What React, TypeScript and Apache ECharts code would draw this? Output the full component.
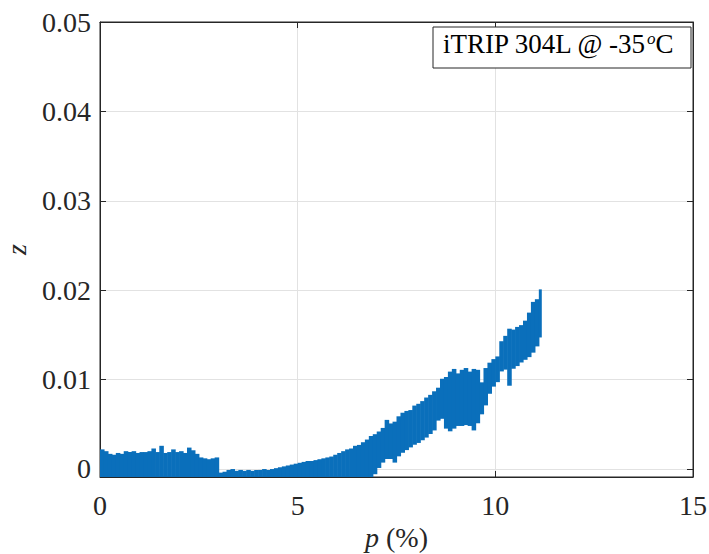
import React, { useEffect, useRef } from "react";
import * as echarts from "echarts";

// strain p (%) sample positions
const pValues = [
  0.0, 0.1, 0.2, 0.3, 0.4, 0.5, 0.6, 0.7, 0.8, 0.9,
  1.0, 1.1, 1.2, 1.3, 1.4, 1.5, 1.6, 1.7, 1.8, 1.9,
  2.0, 2.1, 2.2, 2.3, 2.4, 2.5, 2.6, 2.7, 2.8, 2.9,
  3.0, 3.1, 3.2, 3.3, 3.4, 3.5, 3.6, 3.7, 3.8, 3.9,
  4.0, 4.1, 4.2, 4.3, 4.4, 4.5, 4.6, 4.7, 4.8, 4.9,
  5.0, 5.1, 5.2, 5.3, 5.4, 5.5, 5.6, 5.7, 5.8, 5.9,
  6.0, 6.1, 6.2, 6.3, 6.4, 6.5, 6.6, 6.7, 6.8, 6.9,
  7.0, 7.1, 7.2, 7.3, 7.4, 7.5, 7.6, 7.7, 7.8, 7.9,
  8.0, 8.1, 8.2, 8.3, 8.4, 8.5, 8.6, 8.7, 8.8, 8.9,
  9.0, 9.1, 9.2, 9.3, 9.4, 9.5, 9.6, 9.7, 9.8, 9.9,
  10.0, 10.1, 10.2, 10.3, 10.4, 10.5, 10.6, 10.7, 10.8, 10.9,
  11.0, 11.1,
];

// lower envelope of the noisy z signal
const zLow = [
  -0.0009, -0.0009, -0.0009, -0.0009, -0.0009, -0.0009, -0.0009, -0.0009, -0.0009, -0.0009,
  -0.0009, -0.0009, -0.0009, -0.0009, -0.0009, -0.0009, -0.0009, -0.0009, -0.0009, -0.0009,
  -0.0009, -0.0009, -0.0009, -0.0009, -0.0009, -0.0009, -0.0009, -0.0009, -0.0009, -0.0009,
  -0.0009, -0.0009, -0.0009, -0.0009, -0.0009, -0.0009, -0.0009, -0.0009, -0.0009, -0.0009,
  -0.0009, -0.0009, -0.0009, -0.0009, -0.0009, -0.0009, -0.0009, -0.0009, -0.0009, -0.0009,
  -0.0009, -0.0009, -0.0009, -0.0009, -0.0009, -0.0009, -0.0009, -0.0009, -0.0009, -0.0009,
  -0.0009, -0.0009, -0.0009, -0.0009, -0.0009, -0.0009, -0.0009, -0.0009, -0.0009, -0.0005,
  0.0002, 0.0008, 0.0012, 0.0012, 0.0008, 0.0015, 0.0019, 0.0022, 0.0025, 0.0028,
  0.0030, 0.0033, 0.0036, 0.0040, 0.0044, 0.0055, 0.0057, 0.0046, 0.0043, 0.0046,
  0.0049, 0.0049, 0.0050, 0.0049, 0.0044, 0.0052, 0.0062, 0.0072, 0.0085, 0.0093,
  0.0098, 0.0110, 0.0112, 0.0094, 0.0113, 0.0116, 0.0120, 0.0123, 0.0126, 0.0131,
  0.0138, 0.0148,
];

// upper envelope of the noisy z signal
const zHigh = [
  0.0021, 0.0019, 0.0016, 0.0015, 0.0017, 0.0016, 0.0019, 0.0018, 0.0019, 0.0017,
  0.0018, 0.0018, 0.0019, 0.0022, 0.0018, 0.0025, 0.0017, 0.0018, 0.0021, 0.0018,
  0.0019, 0.0017, 0.0023, 0.0020, 0.0016, 0.0012, 0.0011, 0.0010, 0.0011, 0.0012,
  -0.0005, -0.0004, -0.0002, -0.0001, -0.0003, -0.0002, -0.0003, -0.0002, -0.0003, -0.0002,
  -0.0002, -0.0001, -0.0002, -0.0001, 0.0000, 0.0001, 0.0002, 0.0003, 0.0004, 0.0005,
  0.0006, 0.0007, 0.0008, 0.0008, 0.0009, 0.0010, 0.0011, 0.0012, 0.0013, 0.0015,
  0.0017, 0.0019, 0.0021, 0.0022, 0.0025, 0.0026, 0.0029, 0.0032, 0.0036, 0.0038,
  0.0041, 0.0045, 0.0054, 0.0050, 0.0052, 0.0058, 0.0062, 0.0064, 0.0065, 0.0070,
  0.0072, 0.0075, 0.0079, 0.0082, 0.0086, 0.0090, 0.0100, 0.0102, 0.0108, 0.0111,
  0.0106, 0.0110, 0.0112, 0.0108, 0.0111, 0.0110, 0.0096, 0.0112, 0.0118, 0.0122,
  0.0125, 0.0142, 0.0148, 0.0156, 0.0155, 0.0158, 0.0160, 0.0165, 0.0174, 0.0186,
  0.0189, 0.0200,
];

const xMin = 0;
const xMax = 15;
const xStep = 5;
const yMin = -0.0009;
const yMax = 0.05;
const yTicks = [0, 0.01, 0.02, 0.03, 0.04, 0.05];
const legendMain = "iTRIP 304L @ -35";
const legendSup = "o";
const legendUnit = "C";

const FONT = "'Liberation Serif', 'Times New Roman', 'DejaVu Serif', serif";
const AXIS_COLOR = "#262626";
const LINE_COLOR = "#0a6fbb";

export default function App() {
  const ref = useRef<HTMLDivElement>(null);

  useEffect(() => {
    if (!ref.current) return;
    const chart = echarts.init(ref.current, null, { renderer: "svg" });
    const data = pValues.map((p, i) => [p, zLow[i], zHigh[i]]);

    const xCommon = {
      type: "value",
      min: xMin,
      max: xMax,
      interval: xStep,
      gridIndex: 0,
      axisLine: { show: true, onZero: false, lineStyle: { color: AXIS_COLOR, width: 1 } },
      axisTick: { show: true, inside: true, length: 6, lineStyle: { color: AXIS_COLOR, width: 1 } },
    };
    const yCommon = {
      type: "value",
      min: yMin,
      max: yMax,
      gridIndex: 0,
      axisLine: { show: true, onZero: false, lineStyle: { color: AXIS_COLOR, width: 1 } },
      axisTick: {
        show: true,
        inside: true,
        length: 6,
        customValues: yTicks,
        lineStyle: { color: AXIS_COLOR, width: 1 },
      },
    };

    chart.setOption({
      animation: false,
      backgroundColor: "#ffffff",
      textStyle: { fontFamily: FONT },
      grid: {
        left: 100,
        right: 16,
        top: 22,
        bottom: 77,
        show: true,
        borderColor: AXIS_COLOR,
        borderWidth: 1,
        backgroundColor: "#ffffff",
        containLabel: false,
        outerBoundsMode: "none",
      },
      xAxis: [
        {
          ...xCommon,
          position: "bottom",
          axisLabel: { show: true, color: AXIS_COLOR, fontSize: 28, fontFamily: FONT, margin: 14 },
          splitLine: { show: true, lineStyle: { color: "#e2e2e2", width: 1 } },
          name: "{it|p} (%)",
          nameLocation: "middle",
          nameGap: 44,
          nameTextStyle: {
            color: AXIS_COLOR,
            fontSize: 28,
            fontFamily: FONT,
            rich: {
              it: { fontStyle: "italic", fontSize: 28, fontFamily: FONT, color: AXIS_COLOR },
            },
          },
        },
        {
          ...xCommon,
          position: "top",
          axisLabel: { show: false },
          splitLine: { show: false },
        },
      ],
      yAxis: [
        {
          ...yCommon,
          position: "left",
          axisLabel: {
            show: true,
            customValues: yTicks,
            color: AXIS_COLOR,
            fontSize: 28,
            fontFamily: FONT,
            margin: 9,
            formatter: (v: number) => (Math.abs(v) < 1e-12 ? "0" : v.toFixed(2)),
          },
          splitLine: { show: true, lineStyle: { color: "#e2e2e2", width: 1 } },
          name: "z",
          nameLocation: "middle",
          nameRotate: 90,
          nameGap: 70,
          nameTextStyle: {
            color: AXIS_COLOR,
            fontSize: 28,
            fontFamily: FONT,
            fontStyle: "italic",
          },
        },
        {
          ...yCommon,
          position: "right",
          axisLabel: { show: false },
          splitLine: { show: false },
        },
      ],
      series: [
        {
          type: "custom",
          xAxisIndex: 0,
          yAxisIndex: 0,
          clip: true,
          data,
          encode: { x: 0, y: [1, 2] },
          renderItem: (params: any, api: any) => {
            const i = params.dataIndex;
            const p = api.value(0);
            const lo = api.value(1);
            const hi = api.value(2);
            const next =
              i < pValues.length - 1 ? pValues[i + 1] : p + (p - pValues[i - 1]) * 0.6;
            const a = api.coord([p, hi]);
            const b = api.coord([next, lo]);
            return {
              type: "rect",
              shape: {
                x: a[0],
                y: a[1] - 0.8,
                width: b[0] - a[0] + 0.6,
                height: b[1] - a[1] + 1.6,
              },
              style: { fill: LINE_COLOR },
            };
          },
        },
      ],
      graphic: [
        {
          type: "rect",
          z: 100,
          shape: { x: 433, y: 27, width: 258, height: 41 },
          style: { fill: "#ffffff", stroke: AXIS_COLOR, lineWidth: 1 },
        },
        {
          type: "text",
          z: 101,
          x: 443,
          y: 44,
          style: {
            text: `{a|${legendMain}}{s|${legendSup}}{a|${legendUnit}}`,
            verticalAlign: "middle",
            rich: {
              a: { fontSize: 27, fontFamily: FONT, fill: "#000000", lineHeight: 29 },
              s: {
                fontSize: 17,
                fontFamily: FONT,
                fontStyle: "italic",
                fill: "#000000",
                verticalAlign: "top",
                lineHeight: 18,
              },
            },
          },
        },
      ],
    });

    return () => chart.dispose();
  }, []);

  return (
    <div
      ref={ref}
      style={{ position: "fixed", left: 0, top: 0, width: 709, height: 554, background: "#ffffff" }}
    />
  );
}
